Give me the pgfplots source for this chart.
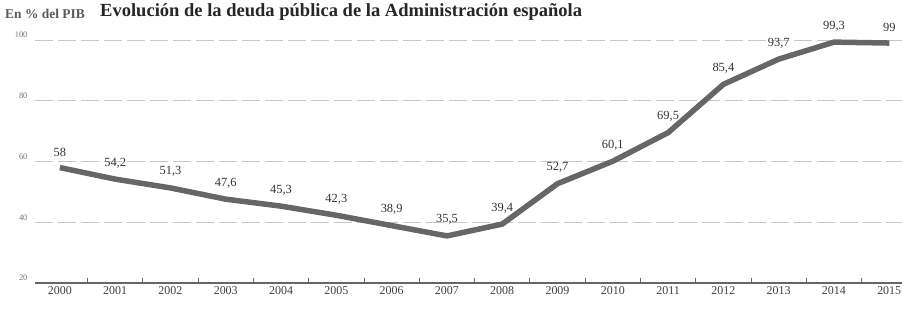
\documentclass[border=0pt]{standalone}
\usepackage{fontspec}
\setmainfont{Liberation Serif}
\usepackage{pgfplots}
\pgfplotsset{compat=1.18}
\begin{document}
\begin{tikzpicture}[x=1bp,y=1bp]
\clip (0,0) rectangle (902,309);
\node[anchor=base west, font=\bfseries\fontsize{18.6}{20}\selectfont, text=black!85, inner sep=0] at (100,293) {Evolución de la deuda pública de la Administración española};
\node[anchor=west, font=\bfseries\fontsize{13.5}{15}\selectfont, text=black!65, inner sep=0] at (5,295) {En \% del PIB};
\begin{axis}[
  at={(35bp,26bp)}, anchor=south west,
  scale only axis, width=867bp, height=243bp,
  xmin=1999.55, xmax=2015.23, ymin=20, ymax=100,
  axis x line*=bottom, axis y line*=left,
  y axis line style={draw=none},
  x axis line style={-, black!60, line width=1.2bp},
  xtick={2000,...,2015},
  xticklabels={2000,2001,2002,2003,2004,2005,2006,2007,2008,2009,2010,2011,2012,2013,2014,2015},
  major x tick style={draw=none},
  minor xtick={2000.5,2001.5,...,2014.5},
  minor x tick style={black!60, line width=0.9bp},
  minor tick length=5bp,
  tick align=inside,
  ytick={20,40,60,80,100},
  major y tick style={draw=none},
  ymajorgrids,
  major grid style={black!22, line width=0.9bp, dash pattern=on 18bp off 5bp},
  xticklabel style={font=\fontsize{12}{13}\selectfont, text=black!75},
  yticklabel style={font=\fontsize{8.5}{9}\selectfont, text=black!55, yshift=5bp, xshift=-4bp},
  /pgf/number format/.cd, use comma, 1000 sep={}, assume math mode=true,
  /pgfplots/.cd,
  clip=false,
]
\addplot[black!60, line width=5.5bp,
  nodes near coords,
  every node near coord/.append style={font=\fontsize{12.5}{13}\selectfont, text=black!80, anchor=south, yshift=5bp,
    /pgf/number format/.cd, use comma, assume math mode=true},
] table {
x y
2000 58
2001 54.2
2002 51.3
2003 47.6
2004 45.3
2005 42.3
2006 38.9
2007 35.5
2008 39.4
2009 52.7
2010 60.1
2011 69.5
2012 85.4
2013 93.7
2014 99.3
2015 99
};
\end{axis}
\end{tikzpicture}
\end{document}
